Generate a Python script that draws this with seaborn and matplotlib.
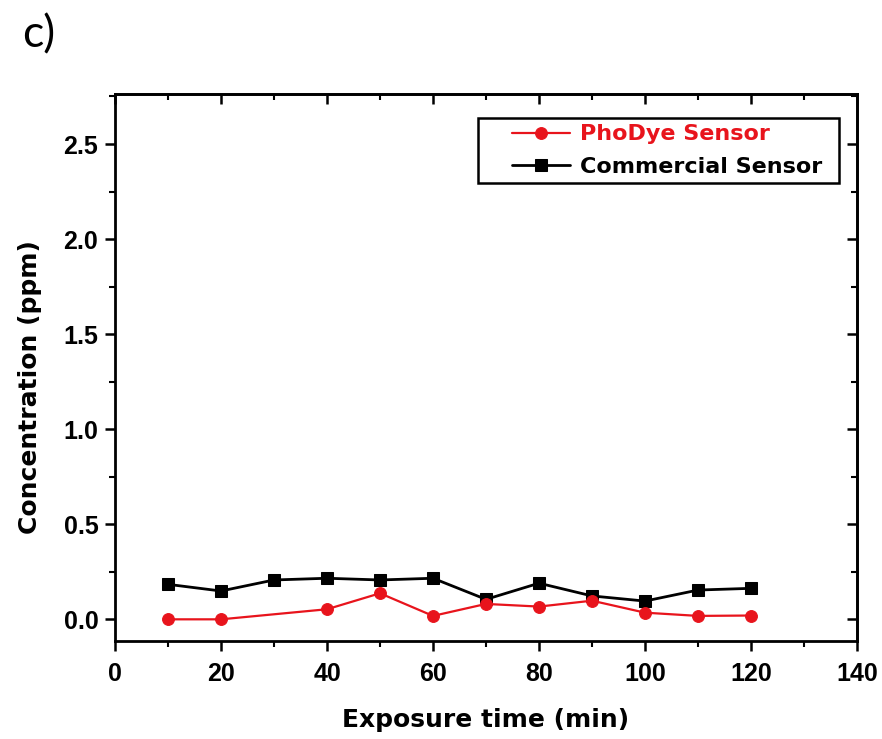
import matplotlib
matplotlib.use("Agg")
import matplotlib.pyplot as plt
import seaborn as sns
import numpy as np
from matplotlib.ticker import MultipleLocator, FormatStrFormatter
from matplotlib.legend_handler import HandlerLine2D

# Data
time_phodye = [10, 20, 40, 50, 60, 70, 80, 90, 100, 110, 120]
conc_phodye = [0.0, 0.0, 0.053, 0.137, 0.018, 0.081, 0.067, 0.098, 0.035, 0.018, 0.02]
time_comm = [10, 20, 30, 40, 50, 60, 70, 80, 90, 100, 110, 120]
conc_comm = [0.184, 0.149, 0.207, 0.216, 0.207, 0.216, 0.105, 0.19, 0.123, 0.096, 0.154, 0.163]
label_phodye = "PhoDye Sensor"
label_comm = "Commercial Sensor"
xlabel = "Exposure time (min)"
ylabel = "Concentration (ppm)"
panel = "c)"

sns.set_style("ticks")
plt.rcParams['font.family'] = ['Liberation Sans', 'DejaVu Sans']
plt.rcParams['text.color'] = 'black'
plt.rcParams['axes.labelcolor'] = 'black'
plt.rcParams['xtick.color'] = 'black'
plt.rcParams['ytick.color'] = 'black'

fig = plt.figure(figsize=(8.82, 7.39), dpi=100)
ax = fig.add_axes([115/882, 1-641/739, 742/882, 547/739])

red = '#e8141c'
sns.lineplot(x=time_comm, y=conc_comm, ax=ax, color='black', marker='s',
             markersize=8, linewidth=2, markeredgecolor='black', label=label_comm)
sns.lineplot(x=time_phodye, y=conc_phodye, ax=ax, color=red, marker='o',
             markersize=8.5, linewidth=1.6, markeredgecolor=red, label=label_phodye)

ax.set_xlim(0, 140)
ax.set_ylim(-0.114, 2.763)
ax.xaxis.set_major_locator(MultipleLocator(20))
ax.xaxis.set_minor_locator(MultipleLocator(10))
ax.yaxis.set_major_locator(MultipleLocator(0.5))
ax.yaxis.set_minor_locator(MultipleLocator(0.25))
ax.yaxis.set_major_formatter(FormatStrFormatter('%.1f'))

for s in ax.spines.values():
    s.set_linewidth(2)
    s.set_color('black')

ax.tick_params(which='major', direction='out', length=7, width=1.8, labelsize=18,
               labelcolor='black', color='black')
ax.tick_params(axis='x', which='major', pad=8)
ax.tick_params(axis='y', which='major', pad=5)
ax.tick_params(which='minor', direction='out', length=4, width=1.5, color='black')
for lab in ax.get_xticklabels() + ax.get_yticklabels():
    lab.set_fontweight('bold')

# Top/right inward ticks
secx = ax.secondary_xaxis('top')
secx.xaxis.set_major_locator(MultipleLocator(20))
secx.xaxis.set_minor_locator(MultipleLocator(10))
secx.tick_params(which='major', direction='in', length=7, width=1.8, labeltop=False, color='black')
secx.tick_params(which='minor', direction='in', length=4, width=1.5, color='black')
secx.spines['top'].set_linewidth(2)
secy = ax.secondary_yaxis('right')
secy.yaxis.set_major_locator(MultipleLocator(0.5))
secy.yaxis.set_minor_locator(MultipleLocator(0.25))
secy.tick_params(which='major', direction='in', length=7, width=1.8, labelright=False, color='black')
secy.tick_params(which='minor', direction='in', length=4, width=1.5, color='black')
secy.spines['right'].set_linewidth(2)

ax.set_xlabel(xlabel, fontsize=18, fontweight='bold', labelpad=16, color='black',
              family=['DejaVu Sans'])
ax.set_ylabel(ylabel, fontsize=18, fontweight='bold', color='black',
              family=['DejaVu Sans'])
ax.yaxis.set_label_coords(-0.0989, 0.465)

handles, labels = ax.get_legend_handles_labels()
order = [labels.index(label_phodye), labels.index(label_comm)]
hmap = {h: HandlerLine2D(xpad=0.77) for h in handles}
leg = ax.legend([handles[i] for i in order], [labels[i] for i in order],
                loc='upper right', bbox_to_anchor=(0.9573, 0.9506),
                prop={'weight': 'bold', 'size': 16, 'family': 'DejaVu Sans'},
                frameon=True, fancybox=False,
                edgecolor='black', handlelength=3.38, handletextpad=0.45,
                borderpad=0.15, labelspacing=0.57, borderaxespad=0, handler_map=hmap)
frame = leg.get_frame()
frame.set_linewidth(1.8)
frame.set_alpha(1)
frame.set_boxstyle('square', pad=0.617)
frame.set_mutation_aspect(0.22)
for t in leg.get_texts():
    if t.get_text() == label_phodye:
        t.set_color(red)
    else:
        t.set_color('black')

fig.text(22/882, 1-14/739, panel, fontsize=32, family='Lato', va='top', ha='left')

fig.savefig("out.png", dpi=100)
